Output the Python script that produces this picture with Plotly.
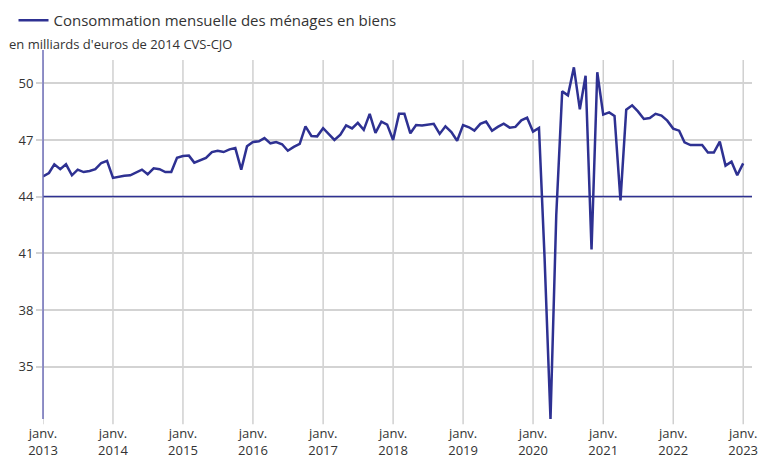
import plotly.graph_objects as go
import pandas as pd

start = "2013-01-01"
values_2013 = [45.07, 45.25, 45.71, 45.45, 45.71, 45.13, 45.43, 45.30, 45.36, 45.45, 45.78, 45.89]
values_2014 = [44.99, 45.06, 45.11, 45.13, 45.29, 45.43, 45.18, 45.50, 45.45, 45.30, 45.30, 46.05]
values_2015 = [46.15, 46.17, 45.80, 45.92, 46.05, 46.36, 46.43, 46.36, 46.50, 46.57, 45.43, 46.66]
values_2016 = [46.89, 46.93, 47.10, 46.82, 46.89, 46.77, 46.43, 46.63, 46.79, 47.72, 47.21, 47.19]
values_2017 = [47.62, 47.30, 47.00, 47.28, 47.77, 47.61, 47.90, 47.53, 48.38, 47.37, 47.97, 47.81]
values_2018 = [47.00, 48.38, 48.38, 47.35, 47.79, 47.76, 47.79, 47.85, 47.32, 47.72, 47.42, 46.96]
values_2019 = [47.79, 47.67, 47.49, 47.85, 47.97, 47.49, 47.69, 47.86, 47.65, 47.69, 48.04, 48.18]
values_2020 = [47.44, 47.63, 40.80, 32.23, 43.00, 49.57, 49.36, 50.84, 48.62, 50.40, 41.20, 50.58]
values_2021 = [48.34, 48.46, 48.27, 43.80, 48.60, 48.83, 48.51, 48.11, 48.16, 48.38, 48.29, 48.02]
values_2022 = [47.60, 47.49, 46.87, 46.73, 46.73, 46.73, 46.33, 46.33, 46.91, 45.64, 45.85, 45.13]
values_2023 = [45.76]

values = (values_2013 + values_2014 + values_2015 + values_2016 + values_2017 +
          values_2018 + values_2019 + values_2020 + values_2021 + values_2022 + values_2023)
dates = pd.date_range(start, periods=len(values), freq="MS")

years = list(range(2013, 2024))
tick_vals = [f"{y}-01-01" for y in years]
tick_text = [f"janv.<br>{y}" for y in years]
y_ticks = [35, 38, 41, 44, 47, 50]

series_name = "Consommation mensuelle des ménages en biens"
subtitle = "en milliards d'euros de 2014 CVS-CJO"
baseline = 44

FONT = "Open Sans"
LINE = "#2e3192"

fig = go.Figure()
fig.add_trace(go.Scatter(x=dates, y=values, mode="lines", name=series_name,
                         line=dict(color=LINE, width=2.5), showlegend=True))

shapes = []
for tv in tick_vals:
    shapes.append(dict(type="line", xref="x", yref="paper", x0=tv, x1=tv,
                       y0=-0.014, y1=0.973, line=dict(color="#c4c4c4", width=1.2),
                       layer="below"))
shapes.append(dict(type="line", xref="paper", yref="y", x0=0, x1=1,
                   y0=baseline, y1=baseline, line=dict(color=LINE, width=1.5)))
shapes.append(dict(type="line", xref="paper", yref="paper", x0=0, x1=0,
                   y0=0, y1=1.0, line=dict(color="#6e6eb8", width=1.5)))

fig.update_layout(
    width=759, height=460,
    margin=dict(l=43, r=7, t=50, b=41, autoexpand=False),
    paper_bgcolor="white", plot_bgcolor="white",
    font=dict(family=FONT, color="#333333", size=13),
    shapes=shapes,
    legend=dict(orientation="h", xref="container", yref="container",
                x=0.0178, xanchor="left", y=0.9915, yanchor="top",
                font=dict(size=15, color="#333333"), bgcolor="rgba(0,0,0,0)"),
    annotations=[dict(text=subtitle, xref="paper", yref="paper", x=-0.051, y=1.0175,
                      xanchor="left", yanchor="middle", showarrow=False,
                      font=dict(size=13, color="#333333"))],
    xaxis=dict(range=["2013-01-01", "2023-02-16"], tickmode="array",
               tickvals=tick_vals, ticktext=tick_text, showgrid=False,
               zeroline=False, showline=False, ticks="", tickfont=dict(size=13),
               ticklabelstandoff=5, automargin=False),
    yaxis=dict(range=[32.23, 51.76], tickmode="array", tickvals=y_ticks,
               showgrid=True, gridcolor="#d3d3d3", gridwidth=2, zeroline=False,
               ticks="outside", ticklen=6, tickcolor="#d3d3d3", tickwidth=2,
               showline=False, tickfont=dict(size=13), automargin=False),
    hovermode=False,
)

fig.write_html("out.html", config={"displayModeBar": False},
               post_script="document.body.style.margin='0';document.body.style.overflow='hidden';")
